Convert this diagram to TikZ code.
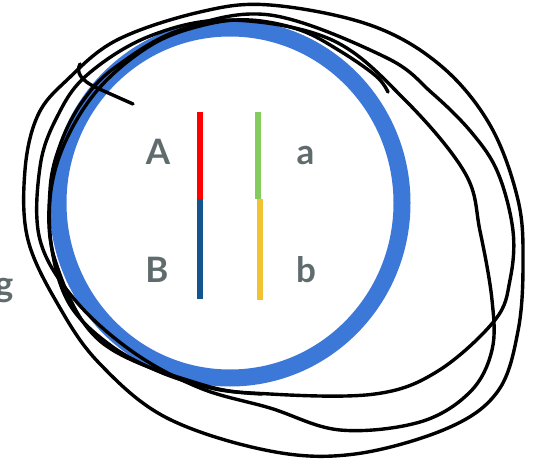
\documentclass[tikz,border=0pt]{standalone}
\usepackage{fontspec}
\setmainfont{Lato}
\usepackage{xcolor}
\usepackage{tikz}
\definecolor{ringblue}{HTML}{3C78D8}
\definecolor{txtgray}{HTML}{5F6B6D}
\definecolor{barred}{HTML}{FF0000}
\definecolor{bardblue}{HTML}{14558F}
\definecolor{bargreen}{HTML}{84CC5E}
\definecolor{baryellow}{HTML}{F1C232}

\begin{document}
\begin{tikzpicture}[
  x=1pt, y=-1pt,
  lbl/.style={text=txtgray, font=\fontsize{35}{35}\selectfont\bfseries, inner sep=0pt, anchor=base},
  bar/.style={line width=6pt},
  ink/.style={line width=3.4pt, line cap=round, line join=round}
]
  \useasboundingbox (0,0) rectangle (535,462);
  % ring
  \draw[ringblue, line width=17pt] (230,203) ellipse [x radius=172, y radius=175];
  % labels
  \node[lbl] (A) at (158,165) {A};
  \node[lbl] (B) at (157,283) {B};
  \node[lbl] (a) at (305.5,165) {a};
  \node[lbl] (b) at (306,283) {b};
  \node[lbl, anchor=base east] (g) at (13.5,296) {g};
  % bars
  \draw[bar, barred] (200,112) -- (200,210);
  \draw[bar, bardblue] (200,199) -- (200,299);
  \draw[bar, bargreen] (257.5,112) -- (257.5,199);
  \draw[bar, baryellow] (260,199) -- (260,300);
  % scribble
  \draw[ink] (133,104) -- (97,88) .. controls (80,80) and (76,72) .. (80,64);
  \draw[ink] plot[smooth cycle, tension=0.6] coordinates {
    (230,20) (332,40) (405,100) (465,173) (480,231) (492,300) (492,350)
    (470,392) (420,422) (340,430) (270,408) (200,388) (133,352) (75,300)
    (40,240) (40,167) (57,117) (87,75) (150,36)};
  \draw[ink] plot[smooth cycle, tension=0.6] coordinates {
    (270,15) (385,57) (432,93) (472,133) (498,173) (513,231) (510,280)
    (495,320) (438,371) (375,394) (270,394) (200,384) (100,341) (55,260)
    (50,190) (62,140) (85,98) (117,66) (180,30)};
  \draw[ink] plot[smooth cycle, tension=0.6] coordinates {
    (270,5) (370,25) (440,65) (490,125) (518,200) (523,264) (518,331)
    (498,391) (448,428) (355,454) (270,451) (167,418) (100,364) (60,308)
    (28,240) (25,170) (38,115) (67,80) (117,40) (200,12)};
  \draw[ink] plot[smooth, tension=0.6] coordinates {
    (388,92) (376,76) (340,51) (300,30) (250,20) (204,25) (153,44) (102,85)
    (68,136) (51,190) (52,250) (70,305) (110,345) (160,372) (215,389)
    (262,394)};
\end{tikzpicture}
\end{document}
